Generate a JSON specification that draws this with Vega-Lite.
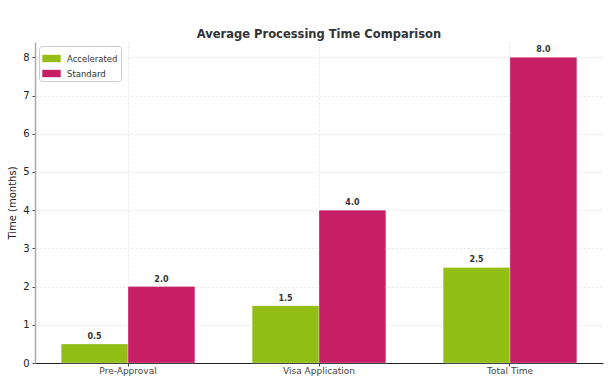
{
  "$schema": "https://vega.github.io/schema/vega-lite/v6.json",
  "width": 568,
  "height": 321,
  "autosize": "none",
  "padding": {"left": 35, "top": 42, "right": 13, "bottom": 27},
  "background": "white",
  "title": {"text": "Average Processing Time Comparison", "font": "DejaVu Sans", "fontSize": 11.5, "fontWeight": "bold", "color": "#333333", "offset": 2},
  "config": {"view": {"stroke": null}, "font": "DejaVu Sans"},
  "data": {"values": [
    {"cat": "Pre-Approval", "type": "Accelerated", "value": 0.5},
    {"cat": "Pre-Approval", "type": "Standard", "value": 2.0},
    {"cat": "Visa Application", "type": "Accelerated", "value": 1.5},
    {"cat": "Visa Application", "type": "Standard", "value": 4.0},
    {"cat": "Total Time", "type": "Accelerated", "value": 2.5},
    {"cat": "Total Time", "type": "Standard", "value": 8.0}
  ]},
  "encoding": {
    "x": {"field": "cat", "type": "nominal", "sort": ["Pre-Approval", "Visa Application", "Total Time"],
      "scale": {"paddingInner": 0.3, "paddingOuter": 0.137},
      "axis": {"title": null, "labelAngle": 0, "labelFont": "DejaVu Sans", "labelFontSize": 9, "labelColor": "#444444", "grid": true, "bandPosition": 0.5, "gridColor": "#dddddd", "gridDash": [2, 2], "gridWidth": 0.7, "domainColor": "#222222", "domainWidth": 1, "tickColor": "#444444", "tickSize": 3, "labelPadding": 0}},
    "xOffset": {"field": "type", "sort": ["Accelerated", "Standard"]},
    "y": {"field": "value", "type": "quantitative",
      "scale": {"domain": [0, 8.4], "nice": false},
      "axis": {"title": "Time (months)", "titleFont": "DejaVu Sans", "titleFontSize": 10, "titleFontWeight": "normal", "titleColor": "#222222", "titlePadding": 5, "values": [0,1,2,3,4,5,6,7,8], "labelFont": "DejaVu Sans", "labelFontSize": 10, "labelColor": "#222222", "grid": true, "gridColor": "#dddddd", "gridDash": [2, 2], "gridWidth": 0.7, "domainColor": "#aaaaaa", "domainWidth": 1.5, "tickColor": "#444444", "tickSize": 3, "labelPadding": 3}}
  },
  "layer": [
    {"mark": {"type": "bar", "stroke": "white", "strokeWidth": 0.5, "strokeOpacity": 0.6},
     "encoding": {"color": {"field": "type", "type": "nominal", "sort": ["Accelerated", "Standard"],
       "scale": {"domain": ["Accelerated", "Standard"], "range": ["#93BE16", "#C61F66"]},
       "legend": {"title": null, "orient": "top-left", "offset": 4, "fillColor": "white", "strokeColor": "#cccccc", "cornerRadius": 3, "padding": 3, "labelFont": "DejaVu Sans", "labelFontSize": 8.5, "labelColor": "#333333", "symbolType": "M-1,-0.4H1V0.4H-1Z", "symbolSize": 340, "symbolStrokeWidth": 0, "symbolOpacity": 1, "rowPadding": 1, "labelOffset": 6}}}},
    {"mark": {"type": "text", "dy": -7, "fontWeight": "bold", "fontSize": 8, "color": "#333333", "font": "DejaVu Sans"},
     "encoding": {"text": {"field": "value", "type": "quantitative", "format": ".1f"}}}
  ]
}
